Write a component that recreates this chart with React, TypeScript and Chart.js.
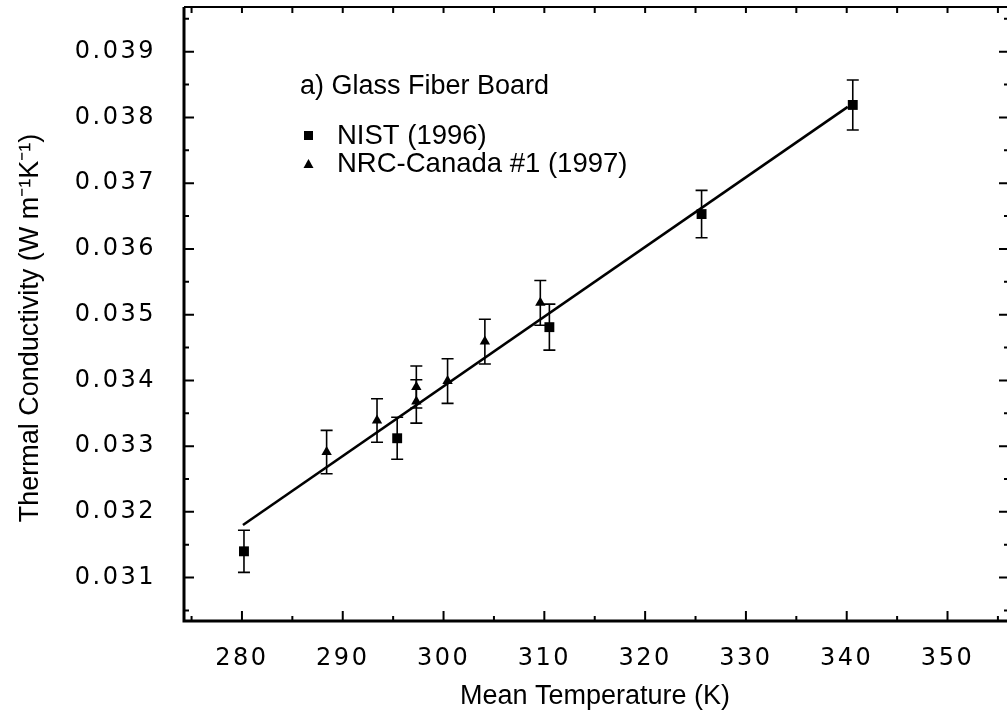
import React, { useEffect, useRef } from "react";
import { Chart, registerables } from "chart.js";

Chart.register(...registerables);

// ---- data ----
const nistTemp = [280.2, 295.4, 310.5, 325.6, 340.6];
const nistK = [0.0314, 0.03312, 0.03481, 0.03653, 0.03819];
const nistErr = [0.00032, 0.00032, 0.00035, 0.00036, 0.00038];

const nrcTemp = [288.4, 293.4, 297.3, 297.3, 300.4, 304.1, 309.6];
const nrcK = [0.03291, 0.03339, 0.0339, 0.03368, 0.03399, 0.03459, 0.03518];
const nrcErr = [0.00033, 0.00033, 0.00032, 0.00033, 0.00034, 0.00034, 0.00034];

const fitTemp = [280.1, 340.1];
const fitK = [0.0318, 0.03816];

const xMajorTicks = [280, 290, 300, 310, 320, 330, 340, 350];
const xMinorTicks = [275, 285, 295, 305, 315, 325, 335, 345, 355];
const yMajorTicks = [0.031, 0.032, 0.033, 0.034, 0.035, 0.036, 0.037, 0.038, 0.039];
const yMinorTicks = [0.0305, 0.0315, 0.0325, 0.0335, 0.0345, 0.0355, 0.0365, 0.0375, 0.0385, 0.0395];

const xTitle = "Mean Temperature (K)";
const yTitle = "Thermal Conductivity (W m\u207B\u00B9K\u207B\u00B9)";
const legendTitle = "a) Glass Fiber Board";
const seriesNames = ["NIST (1996)", "NRC-Canada #1 (1997)"];

const X_MIN = 274.25;
const X_MAX = 356.1;
const Y_MIN = 0.03034;
const Y_MAX = 0.03968;

const CANVAS_W = 1016;
const CANVAS_H = 728;

const TICK_FONT = '"DejaVu Sans", sans-serif';
const TEXT_FONT = '"Liberation Sans", Arial, sans-serif';

const zip = (xs: number[], ys: number[]) => xs.map((x, i) => ({ x, y: ys[i] }));

const letterSpacingPlugin = {
  id: "letterSpacing",
  beforeDraw(chart: any) {
    (chart.ctx as any).letterSpacing = "2.5px";
  },
  beforeDatasetsDraw(chart: any) {
    (chart.ctx as any).letterSpacing = "0px";
  },
};

const errorBarPlugin = {
  id: "errorBars",
  beforeDatasetsDraw(chart: any) {
    const ctx = chart.ctx as CanvasRenderingContext2D;
    const xs = chart.scales.x;
    const ys = chart.scales.y;
    ctx.save();
    ctx.strokeStyle = "#000";
    ctx.lineWidth = 1.6;
    chart.data.datasets.forEach((ds: any) => {
      if (!ds.errors) return;
      ds.data.forEach((p: any, i: number) => {
        const e = ds.errors[i];
        const px = xs.getPixelForValue(p.x);
        const top = ys.getPixelForValue(p.y + e);
        const bot = ys.getPixelForValue(p.y - e);
        const cap = 6;
        ctx.beginPath();
        ctx.moveTo(px, top);
        ctx.lineTo(px, bot);
        ctx.moveTo(px - cap, top);
        ctx.lineTo(px + cap, top);
        ctx.moveTo(px - cap, bot);
        ctx.lineTo(px + cap, bot);
        ctx.stroke();
      });
    });
    ctx.restore();
  },
};

const framePlugin = {
  id: "frame",
  afterDraw(chart: any) {
    const ctx = chart.ctx as CanvasRenderingContext2D;
    const { left, right, top, bottom } = chart.chartArea;
    const xs = chart.scales.x;
    const ys = chart.scales.y;
    ctx.save();
    (ctx as any).letterSpacing = "0px";
    ctx.strokeStyle = "#000";
    // frame
    ctx.lineWidth = 3;
    ctx.beginPath();
    ctx.moveTo(left, top);
    ctx.lineTo(left, bottom);
    ctx.lineTo(right, bottom);
    ctx.stroke();
    ctx.lineWidth = 2;
    ctx.beginPath();
    ctx.moveTo(left, top);
    ctx.lineTo(right, top);
    ctx.lineTo(right, bottom);
    ctx.stroke();
    // inward ticks
    ctx.lineWidth = 2;
    ctx.beginPath();
    xMajorTicks.forEach((v) => {
      const px = xs.getPixelForValue(v);
      ctx.moveTo(px, bottom);
      ctx.lineTo(px, bottom - 10);
      ctx.moveTo(px, top);
      ctx.lineTo(px, top + 6);
    });
    xMinorTicks.forEach((v) => {
      const px = xs.getPixelForValue(v);
      ctx.moveTo(px, bottom);
      ctx.lineTo(px, bottom - 5);
      ctx.moveTo(px, top);
      ctx.lineTo(px, top + 6);
    });
    yMajorTicks.forEach((v) => {
      const py = ys.getPixelForValue(v);
      ctx.moveTo(left, py);
      ctx.lineTo(left + 10, py);
      ctx.moveTo(right, py);
      ctx.lineTo(right - 10, py);
    });
    yMinorTicks.forEach((v) => {
      const py = ys.getPixelForValue(v);
      ctx.moveTo(left, py);
      ctx.lineTo(left + 5, py);
      ctx.moveTo(right, py);
      ctx.lineTo(right - 5, py);
    });
    ctx.stroke();

    // axis titles
    ctx.fillStyle = "#000";
    ctx.font = `27px ${TEXT_FONT}`;
    ctx.textAlign = "center";
    ctx.textBaseline = "middle";
    ctx.fillText(xTitle, 595, 697);
    ctx.save();
    ctx.translate(31, 328);
    ctx.rotate(-Math.PI / 2);
    ctx.fillText(yTitle, 0, 0);
    ctx.restore();

    // legend
    ctx.textAlign = "left";
    ctx.font = `27px ${TEXT_FONT}`;
    ctx.fillText(legendTitle, 300, 87);
    ctx.font = `27.5px ${TEXT_FONT}`;
    ctx.fillText(seriesNames[0], 337, 136);
    ctx.fillText(seriesNames[1], 337, 164);
    ctx.fillRect(304, 131, 9, 9);
    ctx.beginPath();
    ctx.moveTo(308.5, 159);
    ctx.lineTo(313.5, 168);
    ctx.lineTo(303.5, 168);
    ctx.closePath();
    ctx.fill();
    ctx.restore();
  },
};

export default function App() {
  const ref = useRef<HTMLCanvasElement | null>(null);

  useEffect(() => {
    if (!ref.current) return;
    const chart = new Chart(ref.current, {
      type: "scatter",
      data: {
        datasets: [
          {
            label: "fit",
            data: zip(fitTemp, fitK),
            showLine: true,
            borderColor: "#000",
            borderWidth: 2.6,
            pointRadius: 0,
            fill: false,
          } as any,
          {
            label: seriesNames[0],
            data: zip(nistTemp, nistK),
            errors: nistErr,
            pointStyle: "rect",
            pointRadius: 7,
            backgroundColor: "#000",
            borderColor: "#000",
            borderWidth: 0,
            showLine: false,
          } as any,
          {
            label: seriesNames[1],
            data: zip(nrcTemp, nrcK),
            errors: nrcErr,
            pointStyle: "triangle",
            pointRadius: 6,
            backgroundColor: "#000",
            borderColor: "#000",
            borderWidth: 0,
            showLine: false,
          } as any,
        ],
      },
      options: {
        responsive: false,
        animation: false,
        devicePixelRatio: 1,
        layout: { padding: { top: 7, right: 1, left: 0, bottom: 0 } },
        plugins: {
          legend: { display: false },
          tooltip: { enabled: false },
        },
        scales: {
          x: {
            type: "linear",
            min: X_MIN,
            max: X_MAX,
            grid: { display: false, drawTicks: false },
            border: { display: false },
            afterBuildTicks: (s: any) => {
              s.ticks = xMajorTicks.map((v) => ({ value: v }));
            },
            afterFit: (s: any) => {
              s.height = 107;
              s.paddingLeft = 0;
              s.paddingRight = 0;
            },
            ticks: {
              color: "#000",
              padding: 23,
              maxRotation: 0,
              autoSkip: false,
              font: { family: TICK_FONT, size: 24 },
              callback: (v: any) => String(v),
            },
          },
          y: {
            type: "linear",
            min: Y_MIN,
            max: Y_MAX,
            grid: { display: false, drawTicks: false },
            border: { display: false },
            afterBuildTicks: (s: any) => {
              s.ticks = yMajorTicks.map((v) => ({ value: v }));
            },
            afterFit: (s: any) => {
              s.width = 184;
              s.paddingTop = 0;
              s.paddingBottom = 0;
            },
            ticks: {
              color: "#000",
              padding: 28,
              autoSkip: false,
              font: { family: TICK_FONT, size: 24 },
              callback: (v: any) => Number(v).toFixed(3),
            },
          },
        },
      } as any,
      plugins: [letterSpacingPlugin, errorBarPlugin, framePlugin],
    });
    return () => chart.destroy();
  }, []);

  return (
    <div
      style={{
        position: "fixed",
        left: 0,
        top: 0,
        width: 1007,
        height: 728,
        overflow: "hidden",
        background: "#fff",
      }}
    >
      <canvas
        ref={ref}
        width={CANVAS_W}
        height={CANVAS_H}
        style={{ display: "block", width: CANVAS_W, height: CANVAS_H }}
      />
    </div>
  );
}
